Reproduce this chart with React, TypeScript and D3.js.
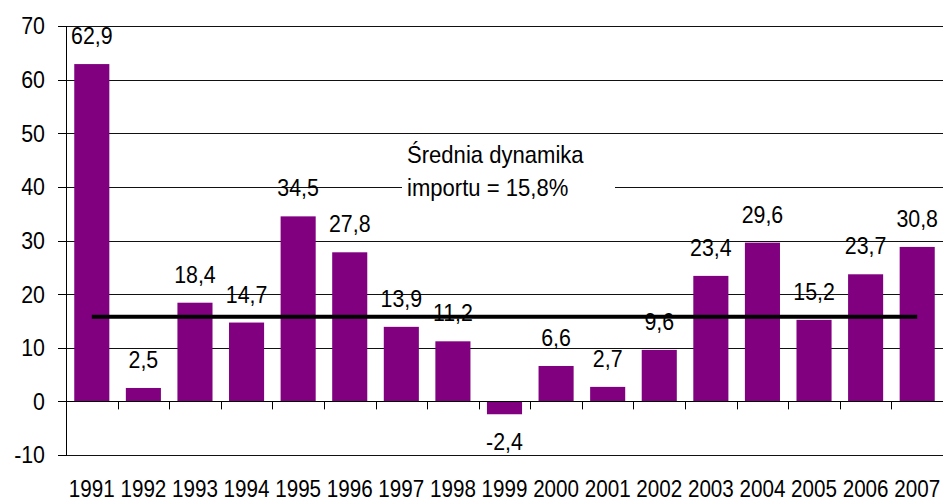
import React, { useEffect, useRef } from 'react';
import * as d3 from 'd3';

// Years on the x axis
const years = [
  '1991', '1992', '1993', '1994', '1995', '1996', '1997', '1998', '1999',
  '2000', '2001', '2002', '2003', '2004', '2005', '2006', '2007',
];

// Bar heights as drawn (2007 bar is drawn lower than its label says)
const values = [
  62.9, 2.5, 18.4, 14.7, 34.5, 27.8, 13.9, 11.2, -2.4,
  6.6, 2.7, 9.6, 23.4, 29.6, 15.2, 23.7, 28.8,
];

// Data labels as printed above the bars
const valueLabels = [
  '62,9', '2,5', '18,4', '14,7', '34,5', '27,8', '13,9', '11,2', '-2,4',
  '6,6', '2,7', '9,6', '23,4', '29,6', '15,2', '23,7', '30,8',
];

const yTicks = [-10, 0, 10, 20, 30, 40, 50, 60, 70];

const meanValue = 15.8;
const noteLines = ['Średnia dynamika', 'importu = 15,8%'];

const FONT = '"Liberation Sans", Arial, sans-serif';

const App = () => {
  const ref = useRef<SVGSVGElement>(null);

  useEffect(() => {
    const svg = d3.select(ref.current);
    svg.selectAll('*').remove();

    const left = 66;
    const right = 943;

    const yScale = d3.scaleLinear().domain([-10, 70]).range([455, 26]);

    const xCat = d3.scaleBand().domain(years).range([left, right]).padding(0);
    const xBar = d3
      .scaleBand()
      .domain(years)
      .range([left, right])
      .paddingInner(0.32)
      .paddingOuter(0.16);

    const crisp = (v: number) => Math.round(v) + 0.5;
    // squeeze text horizontally so it looks like Arial Narrow
    const place = (x: number, y: number, sx = 0.89) => `translate(${x},${y}) scale(${sx},1)`;

    // Gridlines
    svg
      .append('g')
      .selectAll('line')
      .data(yTicks.filter((t) => t !== 0))
      .enter()
      .append('line')
      .attr('x1', left)
      .attr('x2', right)
      .attr('y1', (d) => crisp(yScale(d)))
      .attr('y2', (d) => crisp(yScale(d)))
      .attr('stroke', '#111')
      .attr('stroke-width', 1);

    // White box behind the note (hides the gridline)
    svg
      .append('rect')
      .attr('x', 402)
      .attr('y', 140)
      .attr('width', 213)
      .attr('height', 66)
      .attr('fill', '#fff');

    // Bars
    svg
      .append('g')
      .selectAll('rect')
      .data(values)
      .enter()
      .append('rect')
      .attr('x', (d, i) => xBar(years[i]) as number)
      .attr('y', (d) => yScale(Math.max(0, d)))
      .attr('width', xBar.bandwidth())
      .attr('height', (d) => Math.abs(yScale(d) - yScale(0)))
      .attr('fill', '#800080');

    // Y axis line and ticks
    svg
      .append('line')
      .attr('x1', left + 0.5)
      .attr('x2', left + 0.5)
      .attr('y1', yScale(70))
      .attr('y2', yScale(-10) + 0.5)
      .attr('stroke', '#000');

    svg
      .append('g')
      .selectAll('line')
      .data(yTicks)
      .enter()
      .append('line')
      .attr('x1', 58)
      .attr('x2', left)
      .attr('y1', (d) => crisp(yScale(d)))
      .attr('y2', (d) => crisp(yScale(d)))
      .attr('stroke', '#000');

    svg
      .append('g')
      .selectAll('text')
      .data(yTicks)
      .enter()
      .append('text')
      .attr('transform', (d) => place(45, yScale(d)))
      .attr('dy', '0.35em')
      .attr('text-anchor', 'end')
      .style('font-family', FONT)
      .style('font-size', '24px')
      .attr('fill', '#000')
      .text((d) => d);

    // X axis at zero with category ticks
    svg
      .append('line')
      .attr('x1', left)
      .attr('x2', right)
      .attr('y1', crisp(yScale(0)))
      .attr('y2', crisp(yScale(0)))
      .attr('stroke', '#000');

    svg
      .append('g')
      .selectAll('line')
      .data(years.slice(1))
      .enter()
      .append('line')
      .attr('x1', (d) => crisp(xCat(d) as number))
      .attr('x2', (d) => crisp(xCat(d) as number))
      .attr('y1', yScale(0))
      .attr('y2', yScale(0) + 8)
      .attr('stroke', '#000');

    svg
      .append('g')
      .selectAll('text')
      .data(years)
      .enter()
      .append('text')
      .attr('transform', (d) => place((xCat(d) as number) + xCat.bandwidth() / 2, 497, 0.86))
      .attr('text-anchor', 'middle')
      .style('font-family', FONT)
      .style('font-size', '24px')
      .attr('fill', '#000')
      .text((d) => d);

    // Value labels
    svg
      .append('g')
      .selectAll('text')
      .data(values)
      .enter()
      .append('text')
      .attr('transform', (d, i) =>
        place(
          (xBar(years[i]) as number) + xBar.bandwidth() / 2,
          d >= 0 ? yScale(d) - 20 : yScale(d) + 36,
        ),
      )
      .attr('text-anchor', 'middle')
      .style('font-family', FONT)
      .style('font-size', '24px')
      .attr('fill', '#000')
      .text((d, i) => valueLabels[i]);

    // Mean line
    const first = years[0];
    const last = years[years.length - 1];
    svg
      .append('line')
      .attr('x1', (xCat(first) as number) + xCat.bandwidth() / 2)
      .attr('x2', (xCat(last) as number) + xCat.bandwidth() / 2)
      .attr('y1', yScale(meanValue))
      .attr('y2', yScale(meanValue))
      .attr('stroke', '#000')
      .attr('stroke-width', 4);

    // Note text
    svg
      .append('g')
      .selectAll('text')
      .data(noteLines)
      .enter()
      .append('text')
      .attr('transform', (d, i) => place(407, 163 + i * 33, 0.92))
      .style('font-family', FONT)
      .style('font-size', '24px')
      .attr('fill', '#000')
      .text((d) => d);
  }, []);

  return (
    <svg
      ref={ref}
      width={943}
      height={501}
      style={{ position: 'absolute', left: 0, top: 0, background: '#fff' }}
    />
  );
};

export default App;
